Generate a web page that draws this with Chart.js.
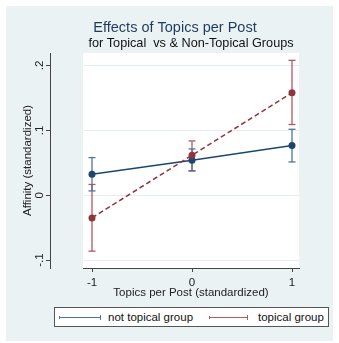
<!DOCTYPE html>
<html><head><meta charset="utf-8">
<script src="https://cdn.jsdelivr.net/npm/chart.js@4/dist/chart.umd.min.js"></script>
<style>
html,body{margin:0;padding:0;width:339px;height:343px;overflow:hidden;background:#fff;font-family:"Liberation Sans",Arial,sans-serif}
#bg{position:absolute;left:6px;top:6px;width:327px;height:335px;background:#eaf2f4}
#wrap{position:absolute;left:0;top:0;width:350px;height:300px}
#legend{position:absolute;left:54px;top:307px;width:275px;height:20px;box-sizing:border-box;border:1px solid #555;background:#fff}
.sym{position:absolute;top:9px;height:1px}
.sym::before,.sym::after{content:"";position:absolute;width:1px;background:inherit}
.sym::before{left:0;top:-1px;height:3px}
.sym::after{right:0;top:-2px;height:5px}
.lbl{position:absolute;top:2px;font-size:11.5px;line-height:14px;color:#111;white-space:nowrap}
</style></head>
<body>
<div id="bg"></div>
<div id="wrap"><canvas id="c" width="350" height="300"></canvas></div>
<div id="legend"></div>
<script>
// ---- data ----
const categories = [-1, 0, 1];
const xTickValues = [-1, 0, 1];
const yTickValues = [-0.1, 0, 0.1, 0.2];
const yTickLabels = ['-.1', '0', '.1', '.2'];
const seriesNames = ['not topical group', 'topical group'];
const notTopical = [0.0324, 0.054, 0.0765];
const notTopicalLow = [0.0066, 0.0374, 0.0513];
const notTopicalHigh = [0.058, 0.0713, 0.1017];
const topical = [-0.035, 0.0616, 0.158];
const topicalLow = [-0.0863, 0.0374, 0.109];
const topicalHigh = [0.0165, 0.0837, 0.208];
const titleText = 'Effects of Topics per Post';
const subtitleText = 'for Topical  vs & Non-Topical Groups';
const xTitle = 'Topics per Post (standardized)';
const yTitle = 'Affinity (standardized)';

// ---- styles ----
const F = '"Liberation Sans", Arial, sans-serif';
Chart.defaults.font.family = F;
const blue = '#1a476f', blueCI = '#4f7599';
const red = '#90353b', redCI = '#b9575f';
const axisCol = '#444';

function ciSets(lo, hi, color, tag) {
  return categories.map((c, i) => ({
    label: tag + '-ci-' + i,
    data: [{x: c, y: lo[i]}, {x: c, y: hi[i]}],
    borderColor: color, borderWidth: 1.3, showLine: true,
    pointStyle: 'line', pointRadius: 3.5, pointHoverRadius: 3.5,
    pointBorderWidth: 1.3, pointBorderColor: color,
    order: 3, yAxisID: 'y', clip: false
  }));
}
function mainSet(vals, color, dash, name, order) {
  return {
    label: name,
    data: categories.map((c, i) => ({x: c, y: vals[i]})),
    borderColor: color, borderWidth: 1.5, borderDash: dash,
    pointRadius: 3.5, pointHoverRadius: 3.5, pointBackgroundColor: color,
    pointBorderWidth: 0, order: order, yAxisID: 'y', clip: false
  };
}

const plotBg = {
  id: 'plotBg',
  beforeDraw(chart) {
    const a = chart.chartArea, ctx = chart.ctx;
    ctx.save(); ctx.fillStyle = '#ffffff';
    ctx.fillRect(a.left, a.top, a.right - a.left, a.bottom - a.top);
    ctx.restore();
  }
};
// title centred on the whole graph, subtitle centred on the plot region (Stata style)
const topTitles = {
  id: 'topTitles',
  afterDraw(chart) {
    const ctx = chart.ctx, a = chart.chartArea;
    ctx.save();
    ctx.textAlign = 'center'; ctx.textBaseline = 'alphabetic';
    ctx.font = 'normal 14.5px ' + F; ctx.fillStyle = '#1f3b5a';
    ctx.fillText(titleText, chart.width / 2, 31.5);
    ctx.font = 'normal 12.7px ' + F; ctx.fillStyle = '#111';
    ctx.fillText(subtitleText, (a.left + a.right) / 2, 47);
    ctx.restore();
  }
};

new Chart(document.getElementById('c'), {
  type: 'line',
  data: {
    datasets: [
      ...ciSets(notTopicalLow, notTopicalHigh, blueCI, 'nt'),
      ...ciSets(topicalLow, topicalHigh, redCI, 't'),
      mainSet(notTopical, blue, [], seriesNames[0], 2),
      mainSet(topical, red, [5, 3], seriesNames[1], 1)
    ]
  },
  options: {
    responsive: false, animation: false, events: [],
    layout: {padding: {left: 0, top: 53, right: 51, bottom: 0}},
    plugins: {legend: {display: false}, tooltip: {enabled: false}},
    scales: {
      x: {
        type: 'linear', min: -1.09, max: 1.07,
        afterBuildTicks: s => { s.ticks = xTickValues.map(v => ({value: v})); },
        ticks: {callback: (v, i) => String(xTickValues[i]), color: '#222', font: {size: 11.5},
          padding: 4, maxRotation: 0, minRotation: 0, autoSkip: false},
        grid: {drawOnChartArea: false, tickLength: 4, tickColor: axisCol, tickWidth: 1},
        border: {color: axisCol, width: 1},
        title: {display: true, text: xTitle, color: '#222', font: {size: 11.5},
          padding: {top: 0, bottom: 0}},
        afterFit: s => { s.height = 32; }
      },
      y: {
        type: 'linear', position: 'left', weight: 1, min: -0.1123, max: 0.2193,
        afterBuildTicks: s => { s.ticks = yTickValues.map(v => ({value: v})); },
        ticks: {callback: (v, i) => yTickLabels[i], color: '#222', font: {size: 11.5},
          minRotation: 90, maxRotation: 90, crossAlign: 'center', padding: -1, autoSkip: false},
        grid: {color: '#e3ecf0', lineWidth: 1, tickColor: axisCol, tickLength: 4, tickWidth: 1},
        border: {color: axisCol, width: 1},
        title: {display: true, text: yTitle, color: '#222', font: {size: 11.5},
          padding: {top: 21, bottom: 0}},
        afterFit: s => { s.width = 50; }
      },
      yPad: {
        type: 'linear', position: 'left', weight: 0, display: true,
        ticks: {display: false}, grid: {display: false}, border: {display: false},
        afterFit: s => { s.width = 33; }
      }
    }
  },
  plugins: [plotBg, topTitles]
});

// ---- HTML legend ----
const legendItems = [
  {name: seriesNames[0], color: blueCI, symLeft: 4, symWidth: 42, textLeft: 53},
  {name: seriesNames[1], color: redCI, symLeft: 154, symWidth: 39, textLeft: 203}
];
const lg = document.getElementById('legend');
legendItems.forEach(it => {
  const s = document.createElement('div');
  s.className = 'sym';
  s.style.left = it.symLeft + 'px'; s.style.width = it.symWidth + 'px';
  s.style.background = it.color;
  lg.appendChild(s);
  const t = document.createElement('div');
  t.className = 'lbl'; t.style.left = it.textLeft + 'px'; t.textContent = it.name;
  lg.appendChild(t);
});
</script>
</body></html>
